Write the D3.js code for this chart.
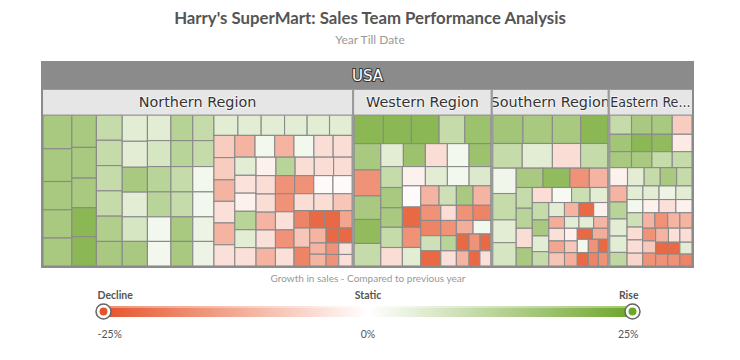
<!DOCTYPE html>
<html>
<head>
<meta charset="utf-8">
<script src="https://cdn.jsdelivr.net/npm/d3@7"></script>
<style>
  body { margin: 0; background: #fff; }
  svg { display: block; }
</style>
</head>
<body>
<div id="vis"></div>
<script>
// [sales, growth %] per sales person, grouped in the strips the treemap lays out
const northern = [
  [[956, 15], [926, 15], [800, 15], [800, 15], [792, 15]],
  [[780, 15], [738, 15], [713, 15], [698, 20], [705, 20]],
  [[641, 10], [641, 10], [641, 10], [641, 10], [641, 13.5], [623, 15]],
  [[650, 5], [642, 5], [615, 15], [610, 5], [608, 7], [608, 15]],
  [[590, 5], [598, 7], [583, 12], [575, 12], [566, 2], [566, 2]],
  [[549, 12.5], [557, 12], [542, 10], [535, 10], [527, 15], [527, 15]],
  [[531, 10], [539, 10], [525, 2], [518, 2], [510, 3], [510, 3]],
  [[480, 5], [466, 5], [468, 5], [452, 5], [448, 5], [452, 5]],
  [[455, -7.5], [455, -7.5], [441, -11], [443, -4.5], [447, -11], [435, -4.5]],
  [[432, -11], [420, 2], [411, -11], [426, 2], [411, -5], [405, -5]],
  [[378, 5], [372, -4.2], [378, -2], [384, 12], [372, 5], [384, -4.5]],
  [[360, -2], [347, 12], [347, -5], [349, -5], [335, -5]],
  [[350, -5], [345, -5], [340, -11], [345, -4.5], [340, -11]],
  [[340, -16], [340, -16], [340, -0.7], [340, -0.7]],
  [[330, -16], [330, -4.5], [330, -16], [330, -4.5]],
  [[330, -5], [322, -5], [315, -8.3]],
  [[267, -18], [298, -8.3], [287, -18]],
  [[255, -22], [250, -22], [214, -13]],
  [[240, -11], [180, -11], [189, -11]],
  [[191, -22], [191, -22]],
  [[143, -16], [143, -16]],
  [[151, -4.5], [151, -4.5]]
];

const western = [
  [[829, 20], [792, 20], [784, 20], [727, 10], [736, 17]],
  [[694, 15], [686, -16], [622, 15], [633, 19], [595, 10]],
  [[513, 5], [499, 17], [499, -5], [493, 2], [493, 17]],
  [[447, 10], [432, 15], [417, 15], [432, 10], [395, -5]],
  [[437, -2], [418, 5], [412, 2], [412, 6]],
  [[386, -0.7], [368, -22], [368, -16], [337, 5]],
  [[353, -11], [334, 8.6], [322, 15], [342, -11]],
  [[300, -16], [300, -18], [300, 8.5], [300, -22]],
  [[234, -5], [250, -16], [265, -18]],
  [[234, -16], [234, 12], [234, -4.5]],
  [[224, -12], [237, 2]],
  [[211, -22], [190, -11]],
  [[183, -16], [178, -22]],
  [[163, -22], [163, -4.5]]
];

const southern = [
  [[851, 16], [832, 15], [796, 15], [768, 20]],
  [[721, 10], [738, 5], [690, -5], [665, 10]],
  [[590, 2.5], [613, 10], [529, 5], [543, 7]],
  [[515, 15], [515, 19], [372, -16], [353, -11]],
  [[331, 10], [320, 12], [309, -5], [293, 15]],
  [[296, -5], [290, 1.5], [276, 9], [264, 5]],
  [[284, 10], [262, 15], [257, 5], [235, 10]],
  [[218, 5], [202, -11], [204, -22], [196, -2]],
  [[183, -12], [197, -4.5], [183, -13], [207, -8.5]],
  [[168, 5], [171, 5], [164, -11]],
  [[160, -2], [149, -8], [169, -11.5]],
  [[165, -22], [168, -12]],
  [[146, 2], [146, -22]],
  [[133, -16], [124, -22]],
  [[133, -18], [124, -16]]
];

const eastern = [
  [[419, 10], [392, 15], [392, 15], [380, -7.5]],
  [[378, 16], [353, 20], [353, 19], [343, -3]],
  [[347, 15], [325, 15], [325, 10], [315, 10]],
  [[324, -2], [304, 5], [293, 10], [300, 15], [280, 10]],
  [[278, -11], [294, 12], [296, 5], [283, 5], [235, 11]],
  [[215, 5], [220, 5], [228, 3], [220, 5]],
  [[208, 2], [213, -2], [222, -4.5], [213, -2]],
  [[222, 8.5], [199, -5], [206, -5], [199, -6]],
  [[188, -11], [198, -16], [187, -11], [187, -11]],
  [[165, -16], [158, -8], [167, -16]],
  [[180, -11], [160, -4.5], [170, -5]],
  [[144, -22], [144, -16]],
  [[144, -22], [144, -16]],
  [[144, 5], [144, -18]]
];

const regionNames = ['Northern Region', 'Western Region', 'Southern Region', 'Eastern Region'];
const regionStrips = [northern, western, southern, eastern];

const colourStops = [-25, 0, 25];
const colourRange = ['#e6542a', '#ffffff', '#6ea52a'];
const legendNames = ['Decline', 'Static', 'Rise'];
const legendTicks = [-25, 0, 25];
const legendTickLabels = ['-25%', '0%', '25%'];

const width = 740;
const height = 360;
const box = { left: 42, top: 62, width: 651, height: 205 };
const rootHeader = 27;
const regionHeader = 26;
const font = 'Lato, "Open Sans", sans-serif';
const labelFont = '"DejaVu Sans", Verdana, sans-serif';

const $svg = d3.select('#vis').append('svg')
  .attr('width', width)
  .attr('height', height);

const colour = d3.scaleLinear().domain(colourStops).range(colourRange).clamp(true);

// title
$svg.append('text')
  .attr('x', width / 2)
  .attr('y', 24)
  .attr('text-anchor', 'middle')
  .attr('font-family', font)
  .attr('font-size', 16.8)
  .attr('font-weight', 700)
  .attr('fill', '#555')
  .text("Harry's SuperMart: Sales Team Performance Analysis");

$svg.append('text')
  .attr('x', width / 2)
  .attr('y', 44)
  .attr('text-anchor', 'middle')
  .attr('font-family', font)
  .attr('font-size', 12)
  .attr('fill', '#999')
  .text('Year Till Date');

// build hierarchy: USA -> regions -> strips -> sales people
const data = {
  name: 'USA',
  children: regionNames.map((name, i) => ({
    name,
    children: regionStrips[i].map(strip => ({
      children: strip.map(([value, growth]) => ({ value, growth }))
    }))
  }))
};

const root = d3.hierarchy(data).sum(d => d.value || 0);

// squarified rows, with the row breaks taken from the data
function tile(node, x0, y0, x1, y1) {
  if (node.depth === 0) return d3.treemapDice(node, x0, y0, x1, y1);
  if (node.depth === 2) return (node.across ? d3.treemapDice : d3.treemapSlice)(node, x0, y0, x1, y1);
  let rest = node.value;
  node.children.forEach((strip, i) => {
    const dx = x1 - x0, dy = y1 - y0;
    strip.x0 = x0; strip.y0 = y0; strip.x1 = x1; strip.y1 = y1;
    if (i === node.children.length - 1) {
      strip.across = dx >= dy;
    } else if (dx < dy) {
      y0 += dy * strip.value / rest;
      strip.y1 = y0;
      strip.across = true;
    } else {
      x0 += dx * strip.value / rest;
      strip.x1 = x0;
      strip.across = false;
    }
    rest -= strip.value;
  });
}

d3.treemap()
  .size([box.width, box.height])
  .tile(tile)
  .paddingTop(d => d.depth === 0 ? rootHeader : d.depth === 1 ? regionHeader : 0)
  .paddingLeft(d => d.depth === 1 ? 1 : 0)
  .paddingRight(d => d.depth === 1 ? 1 : 0)
  .paddingBottom(d => d.depth === 1 ? 1 : 0)
  (root);

const $plot = $svg.append('g')
  .attr('transform', `translate(${box.left}, ${box.top})`);

// cells
$plot.append('g')
  .selectAll('rect')
  .data(root.leaves())
  .join('rect')
  .attr('x', d => d.x0)
  .attr('y', d => d.y0)
  .attr('width', d => d.x1 - d.x0)
  .attr('height', d => d.y1 - d.y0)
  .attr('fill', d => colour(d.data.growth))
  .attr('stroke', '#8a8a8a')
  .attr('stroke-width', 1.1);

const regions = root.children;

// region headers
const $regions = $plot.append('g')
  .selectAll('g')
  .data(regions)
  .join('g');

$regions.append('rect')
  .attr('x', d => d.x0)
  .attr('y', rootHeader)
  .attr('width', d => d.x1 - d.x0)
  .attr('height', regionHeader)
  .attr('fill', '#e6e6e6')
  .attr('stroke', '#9a9a9a')
  .attr('stroke-width', 1);

$regions.append('rect')
  .attr('x', d => d.x0)
  .attr('y', rootHeader)
  .attr('width', d => d.x1 - d.x0)
  .attr('height', box.height - rootHeader)
  .attr('fill', 'none')
  .attr('stroke', '#9a9a9a')
  .attr('stroke-width', 2);

$regions.append('clipPath')
  .attr('id', (d, i) => `clip-${i}`)
  .append('rect')
  .attr('x', d => d.x0 + 1)
  .attr('y', rootHeader)
  .attr('width', d => d.x1 - d.x0 - 2)
  .attr('height', regionHeader);

$regions.append('text')
  .attr('clip-path', (d, i) => `url(#clip-${i})`)
  .attr('x', d => (d.x0 + d.x1) / 2)
  .attr('y', rootHeader + regionHeader / 2)
  .attr('dy', '0.36em')
  .attr('text-anchor', 'middle')
  .attr('font-family', labelFont)
  .attr('font-size', 14.4)
  .attr('fill', '#333')
  .attr('stroke', '#fff')
  .attr('stroke-width', 1.5)
  .attr('stroke-opacity', 0.7)
  .attr('paint-order', 'stroke')
  .text(d => d.data.name)
  .each(function(d) {
    const w = d.x1 - d.x0;
    if (this.getComputedTextLength() <= w + 12) return;
    // too long: cut with an ellipsis, then squeeze into the header
    let txt = d.data.name;
    const t = d3.select(this);
    while (txt.length > 1 && this.getComputedTextLength() > w + 10) {
      txt = txt.slice(0, -1);
      t.text(txt.trimEnd() + '...');
    }
    t.attr('text-anchor', 'start')
      .attr('x', d.x0 + 1.5)
      .attr('textLength', w - 4)
      .attr('lengthAdjust', 'spacingAndGlyphs');
  });

// USA header
$plot.append('rect')
  .attr('x', 0)
  .attr('y', 0)
  .attr('width', box.width)
  .attr('height', rootHeader)
  .attr('fill', '#8b8b8b');

$plot.append('text')
  .attr('x', box.width / 2)
  .attr('y', rootHeader / 2)
  .attr('dy', '0.36em')
  .attr('text-anchor', 'middle')
  .attr('font-family', labelFont)
  .attr('font-size', 15)
  .attr('fill', '#fff')
  .attr('stroke', '#333')
  .attr('stroke-width', 2)
  .attr('paint-order', 'stroke')
  .text(root.data.name);

$plot.append('rect')
  .attr('x', 0)
  .attr('y', 0)
  .attr('width', box.width)
  .attr('height', box.height)
  .attr('fill', 'none')
  .attr('stroke', '#8b8b8b')
  .attr('stroke-width', 2);

// legend
const lx = d3.scaleLinear().domain([colourStops[0], colourStops[2]]).range([103.5, 632.5]);
const barY = 306, barH = 11;

$svg.append('text')
  .attr('x', lx(0))
  .attr('y', 282)
  .attr('text-anchor', 'middle')
  .attr('font-family', font)
  .attr('font-size', 10)
  .attr('fill', '#999')
  .text('Growth in sales - Compared to previous year');

const grad = $svg.append('defs').append('linearGradient')
  .attr('id', 'legend-grad')
  .attr('x1', '0%').attr('x2', '100%');
grad.selectAll('stop')
  .data(colourStops)
  .join('stop')
  .attr('offset', d => `${(lx(d) - lx(colourStops[0])) / (lx(colourStops[2]) - lx(colourStops[0])) * 100}%`)
  .attr('stop-color', d => colour(d));

$svg.append('rect')
  .attr('x', lx(colourStops[0]))
  .attr('y', barY)
  .attr('width', lx(colourStops[2]) - lx(colourStops[0]))
  .attr('height', barH)
  .attr('fill', 'url(#legend-grad)');

$svg.append('rect')
  .attr('x', lx(colourStops[0]))
  .attr('y', barY)
  .attr('width', lx(colourStops[2]) - lx(colourStops[0]))
  .attr('height', 2)
  .attr('fill', '#fff')
  .attr('opacity', 0.35);

const anchors = ['start', 'middle', 'end'];
const offs = [-6, 0, 6];

$svg.selectAll('.legend-name')
  .data(legendNames)
  .join('text')
  .attr('class', 'legend-name')
  .attr('x', (d, i) => lx(legendTicks[i]) + offs[i])
  .attr('y', 299)
  .attr('text-anchor', (d, i) => anchors[i])
  .attr('font-family', font)
  .attr('font-size', 10.5)
  .attr('font-weight', 700)
  .attr('fill', '#555')
  .text(d => d);

$svg.selectAll('.legend-tick')
  .data(legendTickLabels)
  .join('text')
  .attr('class', 'legend-tick')
  .attr('x', (d, i) => lx(legendTicks[i]) + offs[i])
  .attr('y', 338)
  .attr('text-anchor', (d, i) => anchors[i])
  .attr('font-family', font)
  .attr('font-size', 10.5)
  .attr('fill', '#555')
  .text(d => d);

const handles = [colourStops[0], colourStops[2]];
$svg.selectAll('.handle')
  .data(handles)
  .join('circle')
  .attr('class', 'handle')
  .attr('cx', d => lx(d))
  .attr('cy', barY + barH / 2)
  .attr('r', 7.5)
  .attr('fill', '#fff')
  .attr('stroke', '#666')
  .attr('stroke-width', 1.5);

$svg.selectAll('.handle-dot')
  .data(handles)
  .join('circle')
  .attr('class', 'handle-dot')
  .attr('cx', d => lx(d))
  .attr('cy', barY + barH / 2)
  .attr('r', 4)
  .attr('fill', d => colour(d));
</script>
</body>
</html>
